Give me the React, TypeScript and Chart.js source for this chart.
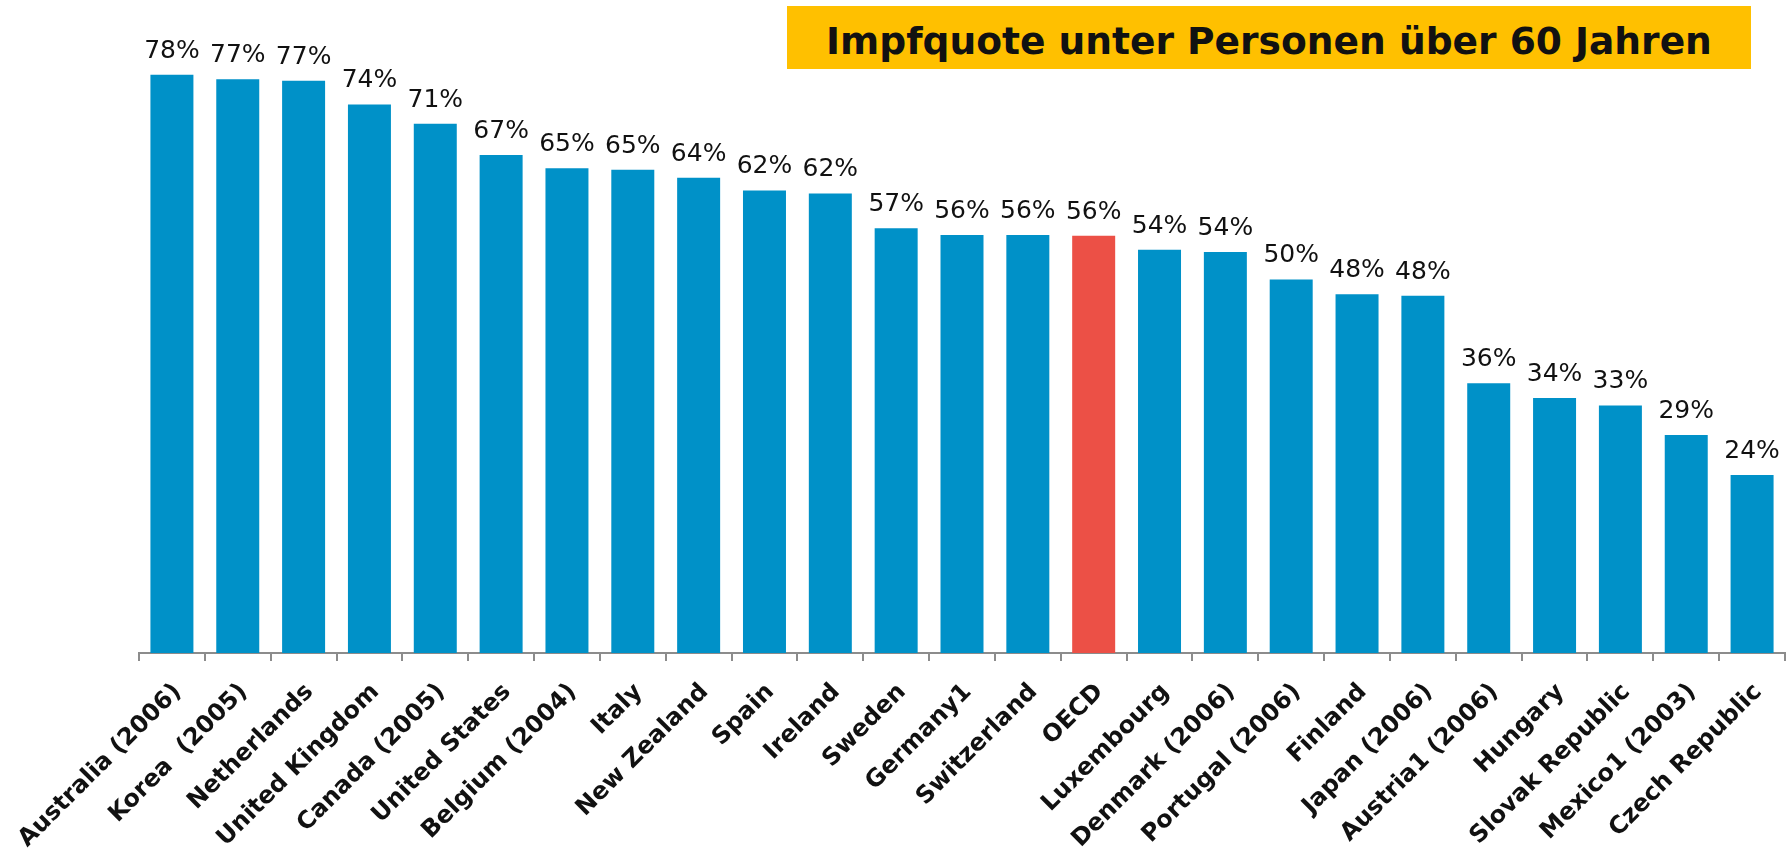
import React, { useEffect, useRef } from "react";
import { Chart, registerables } from "chart.js";

Chart.register(...registerables);

const categories = [
  "Australia (2006)",
  "Korea  (2005)",
  "Netherlands",
  "United Kingdom",
  "Canada (2005)",
  "United States",
  "Belgium (2004)",
  "Italy",
  "New Zealand",
  "Spain",
  "Ireland",
  "Sweden",
  "Germany1",
  "Switzerland",
  "OECD",
  "Luxembourg",
  "Denmark (2006)",
  "Portugal (2006)",
  "Finland",
  "Japan (2006)",
  "Austria1 (2006)",
  "Hungary",
  "Slovak Republic",
  "Mexico1 (2003)",
  "Czech Republic",
];

const rates = [
  78.0, 77.4, 77.2, 74.0, 71.4, 67.2, 65.4, 65.2, 64.1, 62.4, 62.0, 57.3, 56.4,
  56.4, 56.3, 54.4, 54.1, 50.4, 48.4, 48.2, 36.4, 34.4, 33.4, 29.4, 24.0,
];

const highlighted = ["OECD"];

const TITLE = "Impfquote unter Personen über 60 Jahren";

const BLUE = "#0091C8";
const RED = "#EC5046";

const dataLabelPlugin = {
  id: "dataLabels",
  afterDatasetsDraw(chart: any) {
    const ctx = chart.ctx;
    const meta = chart.getDatasetMeta(0);
    const values = chart.data.datasets[0].data as number[];
    ctx.save();
    ctx.font = '25px "DejaVu Sans"';
    ctx.fillStyle = "#111111";
    ctx.textAlign = "center";
    ctx.textBaseline = "alphabetic";
    meta.data.forEach((bar: any, i: number) => {
      ctx.fillText(Math.round(values[i]) + "%", bar.x, bar.y - 17);
    });
    ctx.restore();
  },
};

export default function App() {
  const canvasRef = useRef<HTMLCanvasElement | null>(null);

  useEffect(() => {
    if (!canvasRef.current) return;
    const chart = new Chart(canvasRef.current, {
      type: "bar",
      data: {
        labels: categories,
        datasets: [
          {
            data: rates,
            backgroundColor: categories.map((c) =>
              highlighted.includes(c) ? RED : BLUE
            ),
            barPercentage: 0.653,
            categoryPercentage: 1,
          },
        ],
      },
      options: {
        animation: false,
        responsive: true,
        maintainAspectRatio: false,
        layout: { padding: { left: 139, right: 6, top: 60, bottom: 0 } },
        plugins: {
          legend: { display: false },
          tooltip: { enabled: false },
          title: { display: false },
        },
        scales: {
          x: {
            offset: true,
            grid: {
              offset: true,
              drawOnChartArea: false,
              drawTicks: true,
              tickLength: 8,
              color: "#8C8C8C",
              lineWidth: 2,
            },
            border: { display: true, color: "#8C8C8C", width: 2 },
            ticks: {
              autoSkip: false,
              maxRotation: 45,
              minRotation: 45,
              padding: 17,
              labelOffset: 6,
              color: "#111111",
              font: { family: "DejaVu Sans", size: 24, weight: "bold" },
            },
            afterFit: (scale: any) => {
              scale.height = 199;
              scale.paddingLeft = 0;
              scale.paddingRight = 0;
            },
          },
          y: {
            display: false,
            min: 0,
            max: 80,
          },
        },
      },
      plugins: [dataLabelPlugin],
    });
    return () => chart.destroy();
  }, []);

  return (
    <div
      style={{
        position: "absolute",
        left: 0,
        top: 0,
        width: 1791,
        height: 852,
        background: "#ffffff",
      }}
    >
      <canvas ref={canvasRef} />
      <div
        style={{
          position: "absolute",
          left: 787,
          top: 6,
          width: 964,
          height: 63,
          background: "#FFC000",
          display: "flex",
          alignItems: "center",
          justifyContent: "center",
          paddingTop: 6,
          boxSizing: "border-box",
          fontFamily: '"DejaVu Sans", sans-serif',
          fontWeight: "bold",
          fontSize: 37.6,
          color: "#111111",
          whiteSpace: "nowrap",
        }}
      >
        {TITLE}
      </div>
    </div>
  );
}
